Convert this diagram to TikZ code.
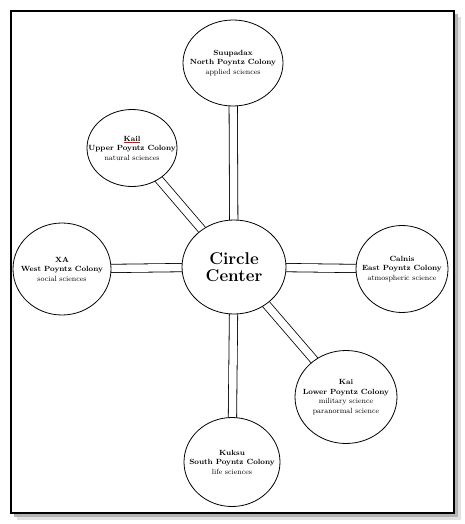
\documentclass[tikz,border=0pt]{standalone}
\usepackage{tikz}
\usetikzlibrary{shapes.geometric,backgrounds}

\begin{document}
\begin{tikzpicture}[x=1pt, y=-1pt,
  colony/.style={draw, ellipse, fill=white, line width=0.8pt, align=center,
                 inner xsep=-20pt, inner ysep=0pt,
                 font=\fontsize{7.5}{9.5}\selectfont},
  hub/.style={colony, font=\fontsize{17}{17}\selectfont\bfseries},
  link/.style={draw, double, double distance=7.5pt, line width=0.8pt,
               shorten <=-2pt, shorten >=-2pt}]
\useasboundingbox (0,0) rectangle (465,524);
\node[hub, minimum width=104pt, minimum height=94pt] (ctr) at (234,267) {Circle\\Center};
\node[colony, minimum width=100pt, minimum height=86pt] (north) at (233,63) {\textbf{Suupadax}\\\textbf{North Poyntz Colony}\\applied sciences};
\node[colony, minimum width=90pt, minimum height=77pt] (upper) at (132,148) {{\color{red}\underline{{\color{black}\textbf{Kail}}}}\\\textbf{Upper Poyntz Colony}\\natural sciences};
\node[colony, minimum width=98pt, minimum height=92pt] (west) at (62,269) {\textbf{XA}\\\textbf{West Poyntz Colony}\\social sciences};
\node[colony, minimum width=92pt, minimum height=87pt] (east) at (402,269) {\textbf{Calnis}\\\textbf{East Poyntz Colony}\\atmospheric science};
\node[colony, minimum width=102pt, minimum height=93pt] (lower) at (346,397) {\textbf{Kai}\\\textbf{Lower Poyntz Colony}\\military science\\paranormal science};
\node[colony, minimum width=96pt, minimum height=89pt] (south) at (232,462) {\textbf{Kuksu}\\\textbf{South Poyntz Colony}\\life sciences};
\begin{scope}[on background layer]
  % page frame with its shadow
  \fill[black!12] (17,17) rectangle (461,520);
  \fill[black!30] (14,14) rectangle (458,517);
  \draw[line width=2pt, fill=white] (11,11) rectangle (454,513);
  \draw[link] (ctr) -- (north);
  \draw[link] (ctr) -- (upper);
  \draw[link] (ctr) -- (west);
  \draw[link] (ctr) -- (east);
  \draw[link] (ctr) -- (lower);
  \draw[link] (ctr) -- (south);
\end{scope}
\end{tikzpicture}
\end{document}
